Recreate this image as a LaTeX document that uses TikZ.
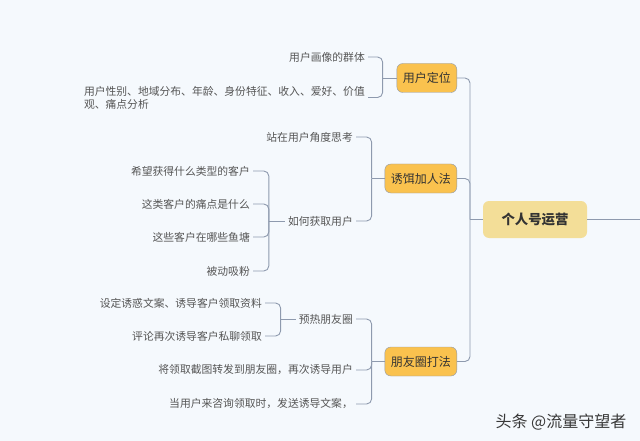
\documentclass[tikz,border=0pt]{standalone}
\usepackage{fontspec}
\setmainfont{Noto Sans CJK SC}
\usetikzlibrary{positioning}

\definecolor{bgcol}{HTML}{F5F9FD}
\definecolor{linecol}{HTML}{8E9AAE}
\definecolor{topicfill}{HTML}{FAC24E}
\definecolor{rootfill}{HTML}{F3DE98}
\definecolor{leaftext}{HTML}{555555}

\begin{document}
\begin{tikzpicture}[
    x=1pt, y=-1pt,
    root/.style={fill=rootfill, rounded corners=6pt, minimum width=104pt,
                 minimum height=37pt, text=black!80,
                 font=\fontsize{13.4}{16}\selectfont\bfseries},
    topic/.style={draw=linecol, fill=topicfill, rounded corners=6pt,
                  minimum height=29pt, inner xsep=6pt, anchor=east,
                  text=black!80, font=\fontsize{12}{14}\selectfont},
    leaf/.style={anchor=east, inner xsep=3pt, inner ysep=1pt, text=leaftext,
                 font=\fontsize{10.8}{13}\selectfont},
    link/.style={draw=linecol, line width=0.9pt, rounded corners=5pt}
  ]
  \fill[bgcol] (0,0) rectangle (640,441);
  \useasboundingbox (0,0) rectangle (640,441);

  \node[root] (root) at (535,219.5) {个人号运营};
  \node[topic] (pos) at (457,78) {用户定位};
  \node[topic] (bait) at (457,178.5) {诱饵加人法};
  \node[topic] (moments) at (457,361.5) {朋友圈打法};

  \node[leaf] (pos1) at (368,57) {用户画像的群体};
  \node[leaf, align=left] (pos2) at (368,97.5)
    {用户性别、地域分布、年龄、身份特征、收入、爱好、价值\\观、痛点分析};

  \node[leaf] (bait1) at (356,137) {站在用户角度思考};
  \node[leaf] (bait2) at (356,221) {如何获取用户};
  \node[leaf] (get1) at (253,171) {希望获得什么类型的客户};
  \node[leaf] (get2) at (253,204) {这类客户的痛点是什么};
  \node[leaf] (get3) at (253,237) {这些客户在哪些鱼塘};
  \node[leaf] (get4) at (253,271) {被动吸粉};

  \node[leaf] (mom1) at (356,319) {预热朋友圈};
  \node[leaf] (warm1) at (265,303) {设定诱惑文案、诱导客户领取资料};
  \node[leaf] (warm2) at (265,336) {评论再次诱导客户私聊领取};
  \node[leaf] (mom2) at (356,370) {将领取截图转发到朋友圈，再次诱导用户};
  \node[leaf] (mom3) at (356,404) {当用户来咨询领取时，发送诱导文案，};

  \node[text=black!78, font=\fontsize{16}{18}\selectfont] (mark) at (561,422)
    {头条 @流量守望者};

  \coordinate (trunk) at (470,219.5);
  \coordinate (rootout) at (640,219.5);
  \draw[link] (root.east) -- (rootout);
  \draw[link] (root.west) -- (trunk);
  \foreach \t in {pos,bait,moments}
    \draw[link] (trunk) |- (\t.east);

  \draw[link] (pos.west) -- ++(-14,0) coordinate (posfork);
  \foreach \c in {pos1,pos2}
    \draw[link] (posfork) |- (\c.east);

  \draw[link] (bait.west) -- ++(-13,0) coordinate (baitfork);
  \foreach \c in {bait1,bait2}
    \draw[link] (baitfork) |- (\c.east);

  \draw[link] (bait2.west) -- ++(-16,0) coordinate (getfork);
  \foreach \c in {get1,get2,get3,get4}
    \draw[link] (getfork) |- (\c.east);

  \draw[link] (moments.west) -- ++(-13,0) coordinate (momfork);
  \foreach \c in {mom1,mom2,mom3}
    \draw[link] (momfork) |- (\c.east);

  \draw[link] (mom1.west) -- ++(-15,0) coordinate (warmfork);
  \foreach \c in {warm1,warm2}
    \draw[link] (warmfork) |- (\c.east);
\end{tikzpicture}
\end{document}
